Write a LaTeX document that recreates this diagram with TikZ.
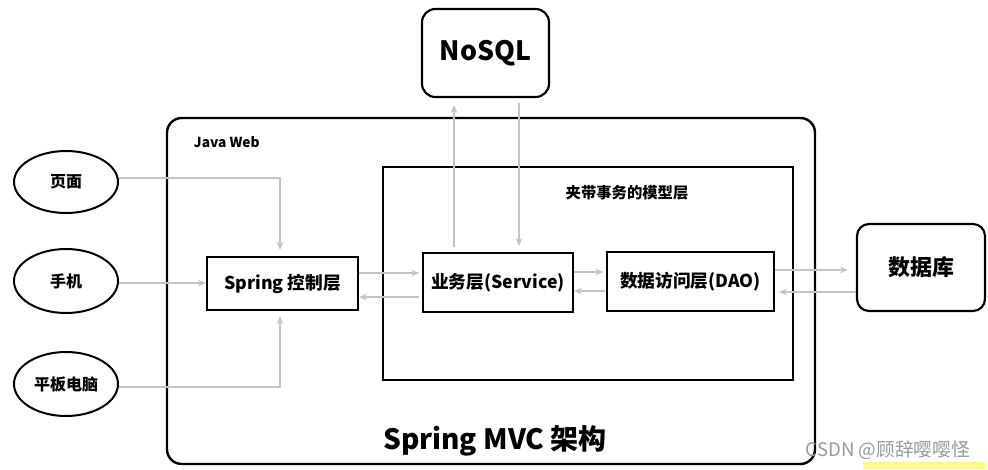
\documentclass[tikz,border=0pt]{standalone}
\usepackage{fontspec}
\setmainfont{Noto Sans CJK SC}
\usetikzlibrary{arrows.meta,shapes.geometric}
\definecolor{arr}{HTML}{C4C4C4}
\tikzset{
  blk/.style={draw=black,line width=1.8pt},
  lay/.style={draw=black,line width=1.6pt,fill=white,inner sep=0pt},
  ell/.style={draw=black,line width=1.5pt,ellipse,minimum width=104*0.75pt,minimum height=62*0.75pt,inner sep=0pt,font=\bfseries\fontsize{12}{14}\selectfont},
  con/.style={draw=arr,line width=1.1pt,-{Stealth[length=6pt,width=5pt]}},
}
\begin{document}
\begin{tikzpicture}[x=0.75pt,y=-0.75pt]
\useasboundingbox (0,0) rectangle (988,469);
% outer Java Web frame
\draw[blk,rounded corners=11pt] (167,118) rectangle (815,464);
\node[anchor=west,font=\bfseries\fontsize{10.3}{12}\selectfont] (jw) at (189,142) {Java Web};
% model layer
\draw[draw=black,line width=1.6pt] (383,167) rectangle (793,380);
\node[font=\bfseries\fontsize{11.5}{14}\selectfont] (ml) at (627,193) {夹带事务的模型层};
% title
\node[font=\bfseries\fontsize{21}{24}\selectfont] (title) at (495,441) {Spring MVC 架构};
% clients
\node[ell] (ym) at (66,182) {页面};
\node[ell,minimum height=64*0.75pt] (sj) at (66,281) {手机};
\node[ell,minimum height=64*0.75pt] (pb) at (66,384) {平板电脑};
% layers
\node[lay,minimum width=151*0.75pt,minimum height=53*0.75pt,font=\bfseries\fontsize{13.3}{15}\selectfont] (ctl) at (282.5,283.5) {Spring 控制层};
\node[lay,minimum width=150*0.75pt,minimum height=59*0.75pt,font=\bfseries\fontsize{13.3}{15}\selectfont] (svc) at (498,282.5) {业务层(Service)};
\node[lay,minimum width=167*0.75pt,minimum height=59*0.75pt,font=\bfseries\fontsize{13.3}{15}\selectfont] (dao) at (690.5,281.5) {数据访问层(DAO)};
% external
\node[draw=black,line width=1.6pt,rounded corners=10pt,minimum width=127*0.75pt,minimum height=88*0.75pt,font=\bfseries\fontsize{20}{24}\selectfont] (nosql) at (485.5,53) {NoSQL};
\node[draw=black,line width=1.6pt,rounded corners=9pt,minimum width=128*0.75pt,minimum height=87*0.75pt,font=\bfseries\fontsize{16.5}{20}\selectfont] (db) at (921,267.5) {数据库};
% connectors from clients
\draw[con] (ym.east |- 0,178) -| (280,250);
\draw[con] (sj.east |- 0,283) -- (ctl.west |- 0,283);
\draw[con] (pb.east |- 0,387) -| (280,316);
% control <-> service
\draw[con] (ctl.east |- 0,273) -- ([xshift=-2pt]svc.west |- 0,273);
\draw[con] ([xshift=-2pt]svc.west |- 0,297) -- (ctl.east |- 0,297);
% service <-> dao
\draw[con] (svc.east |- 0,272) -- ([xshift=-2pt]dao.west |- 0,272);
\draw[con] ([xshift=-1pt]dao.west |- 0,291) -- (svc.east |- 0,291);
% dao <-> db
\draw[con] (dao.east |- 0,270) -- (848,270);
\draw[con] (db.west |- 0,292) -- (779,292);
% service <-> nosql
\draw[con] (454,247) -- (454,105);
\draw[con] (519,103) -- (519,246);
% watermark
\node[anchor=west,text=black!40,font=\fontsize{14}{16}\selectfont] (wm) at (801,450) {CSDN @顾辞嘤嘤怪};
\fill[yellow!45] (863,462) rectangle (985,469);
\end{tikzpicture}
\end{document}
